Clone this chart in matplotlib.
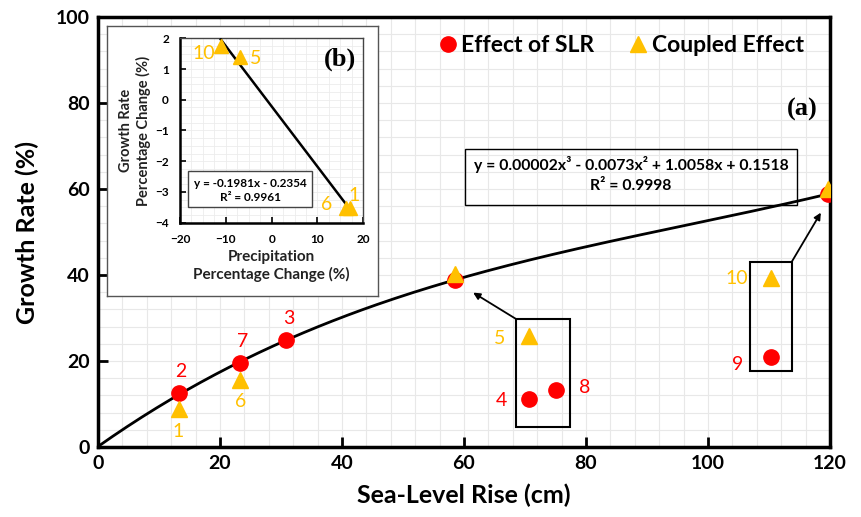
import numpy as np
import matplotlib
matplotlib.use("Agg")
import matplotlib.pyplot as plt
from matplotlib.lines import Line2D
from matplotlib.patches import Rectangle
from matplotlib.ticker import MultipleLocator

plt.rcParams['font.family'] = ['Lato', 'DejaVu Sans']

RED = '#FF0000'
GOLD = '#FFC000'

# main panel (a): growth rate vs sea-level rise
slr_x = [13.2, 23.3, 30.9, 58.5, 119.6]
slr_y = [12.5, 19.5, 24.9, 38.9, 58.8]
slr_labels = ['2', '7', '3', '', '']

# trendline is anchored at zero rise / zero growth
origin_x = [0.0]
origin_y = [0.0]

coupled_x = [13.2, 23.3, 58.5, 119.6]
coupled_y = [8.8, 15.6, 40.3, 60.1]
coupled_labels = ['1', '6', '', '']

# points shown apart inside the two call-out boxes
box1_red_x = [70.7, 75.1]
box1_red_y = [11.2, 13.3]
box1_red_labels = ['4', '8']
box1_gold_x = [70.7]
box1_gold_y = [25.7]
box1_gold_labels = ['5']

box2_red_x = [110.3]
box2_red_y = [20.9]
box2_red_labels = ['9']
box2_gold_x = [110.3]
box2_gold_y = [39.3]
box2_gold_labels = ['10']

# inset (b): growth rate change vs precipitation change
precip_x = [-11.1, -6.9, 16.3, 17.2]
growth_y = [1.75, 1.39, -3.52, -3.52]
precip_labels = ['10', '5', '6', '1']

fig = plt.figure(figsize=(8.62, 5.17), dpi=100)
ax = fig.add_axes([98 / 862, 70 / 517, 732 / 862, 430 / 517])

ax.set_xlim(0, 120)
ax.set_ylim(0, 100)
ax.xaxis.set_major_locator(MultipleLocator(20))
ax.yaxis.set_major_locator(MultipleLocator(20))
ax.xaxis.set_minor_locator(MultipleLocator(4))
ax.yaxis.set_minor_locator(MultipleLocator(4))
ax.grid(which='both', color='#e8e8e8', lw=0.8)
ax.set_axisbelow(True)
ax.tick_params(which='major', direction='in', length=7, width=2, labelsize=14, pad=6)
ax.tick_params(which='minor', length=0)
for lab in ax.get_xticklabels() + ax.get_yticklabels():
    lab.set_fontweight('bold')
for s in ax.spines.values():
    s.set_linewidth(2.5)

ax.set_xlabel('Sea-Level Rise (cm)', fontsize=18, fontweight='bold', labelpad=8)
ax.set_ylabel('Growth Rate (%)', fontsize=18, fontweight='bold', labelpad=12)

# cubic trendline fitted to the SLR points
coef = np.polyfit(origin_x + slr_x, origin_y + slr_y, 3)
xs = np.linspace(0, max(slr_x), 200)
ax.plot(xs, np.polyval(coef, xs), color='black', lw=2, zorder=3)

ax.plot(slr_x, slr_y, 'o', color=RED, ms=11, zorder=4)
ax.plot(coupled_x, coupled_y, '^', color=GOLD, ms=11, zorder=5)
ax.plot(box1_red_x + box2_red_x, box1_red_y + box2_red_y, 'o', color=RED, ms=11, zorder=4)
ax.plot(box1_gold_x + box2_gold_x, box1_gold_y + box2_gold_y, '^', color=GOLD, ms=11, zorder=5)

lab_kw = dict(fontsize=14, ha='center', va='center')
for x, y, t in zip(slr_x, slr_y, slr_labels):
    if t:
        ax.text(x + 0.4, y + 5.1, t, color=RED, **lab_kw)
for x, y, t in zip(coupled_x, coupled_y, coupled_labels):
    if t:
        ax.text(x, y - 5.1, t, color=GOLD, **lab_kw)
ax.text(box1_gold_x[0] - 4.9, box1_gold_y[0] - 0.5, box1_gold_labels[0], color=GOLD, **lab_kw)
ax.text(box1_red_x[0] - 4.5, box1_red_y[0] - 0.5, box1_red_labels[0], color=RED, **lab_kw)
ax.text(box1_red_x[1] + 4.7, box1_red_y[1] + 0.5, box1_red_labels[1], color=RED, **lab_kw)
ax.text(box2_gold_x[0] - 5.5, box2_gold_y[0], box2_gold_labels[0], color=GOLD, **lab_kw)
ax.text(box2_red_x[0] - 5.4, box2_red_y[0] - 1.6, box2_red_labels[0], color=RED, **lab_kw)

# call-out boxes and arrows
ax.add_patch(Rectangle((68.5, 4.6), 8.9, 25.2, fill=False, lw=1.5, zorder=3))
ax.add_patch(Rectangle((106.9, 17.7), 6.8, 25.3, fill=False, lw=1.5, zorder=3))
arrow = dict(arrowstyle='-|>', color='black', lw=1.3, mutation_scale=10, shrinkA=0, shrinkB=0)
ax.annotate('', xy=(61.5, 35.9), xytext=(68.5, 29.8), arrowprops=arrow)
ax.annotate('', xy=(118.5, 54.5), xytext=(113.7, 43.0), arrowprops=arrow)

# equation box
ax.add_patch(Rectangle((60.2, 56.2), 54.4, 13.1, fill=False, lw=1, zorder=3))
ax.text(87.4, 65.6, 'y = 0.00002x³ - 0.0073x² + 1.0058x + 0.1518', fontsize=11.3,
        fontweight='bold', ha='center', va='center')
ax.text(87.4, 60.6, 'R² = 0.9998', fontsize=11.3, fontweight='bold', ha='center', va='center')
ax.text(115.4, 78.6, '(a)', fontsize=19, fontweight='bold', family='Liberation Serif',
        ha='center', va='center')

handles = [
    Line2D([], [], marker='o', ls='none', color=RED, ms=11, label='Effect of SLR'),
    Line2D([], [], marker='^', ls='none', color=GOLD, ms=11, label='Coupled Effect'),
]
ax.legend(handles=handles, ncol=2, frameon=False, loc='center', bbox_to_anchor=(0.713, 0.933),
          prop={'size': 16.5, 'weight': 'bold'}, handletextpad=0.1, columnspacing=1.4,
          handlelength=1.0)

# inset frame
frame = fig.add_axes([107 / 862, 221 / 517, 271 / 862, 270 / 517])
frame.set_xticks([])
frame.set_yticks([])
frame.set_facecolor('white')
for s in frame.spines.values():
    s.set_color('#555555')
    s.set_linewidth(1)

ins = fig.add_axes([180 / 862, 294.3 / 517, 183.3 / 862, 184.4 / 517])
ins.set_xlim(-20, 20)
ins.set_ylim(-4, 2)
ins.xaxis.set_major_locator(MultipleLocator(10))
ins.yaxis.set_major_locator(MultipleLocator(1))
ins.xaxis.set_minor_locator(MultipleLocator(2.5))
ins.yaxis.set_minor_locator(MultipleLocator(0.25))
ins.grid(which='both', color='#ececec', lw=0.6)
ins.set_axisbelow(True)
ins.tick_params(which='major', direction='in', length=4, width=1.2, labelsize=8.5, pad=8)
ins.tick_params(which='minor', length=0)
for lab in ins.get_xticklabels() + ins.get_yticklabels():
    lab.set_fontweight('bold')
ins.spines['left'].set_linewidth(1.8)
ins.spines['bottom'].set_linewidth(1.8)
for side in ['top', 'right']:
    ins.spines[side].set_color('#444444')
    ins.spines[side].set_linewidth(1)

ins.set_xlabel('Precipitation\nPercentage Change (%)', fontsize=11, fontweight='bold',
               color='#222222', labelpad=4)
ins.set_ylabel('Growth Rate\nPercentage Change (%)', fontsize=10.5, fontweight='bold',
               color='#222222', labelpad=3)

lin = np.polyfit(precip_x, growth_y, 1)
lx = np.array([min(precip_x), max(precip_x)])
ins.plot(lx, np.polyval(lin, lx), color='black', lw=1.8, zorder=3)
ins.plot(precip_x, growth_y, '^', color=GOLD, ms=10, zorder=4, clip_on=False)

offsets = [(-3.8, -0.24), (3.3, -0.04), (-4.2, 0.1), (0.7, 0.42)]
for x, y, t, (dx, dy) in zip(precip_x, growth_y, precip_labels, offsets):
    ins.text(x + dx, y + dy, t, color=GOLD, fontsize=14, ha='center', va='center')

ins.add_patch(Rectangle((-18.2, -3.48), 27.0, 1.16, facecolor='white', edgecolor='#444444',
                        lw=1, zorder=5))
ins.text(-4.7, -2.74, 'y = -0.1981x - 0.2354', fontsize=8.5, fontweight='bold',
         ha='center', va='center', zorder=6)
ins.text(-4.7, -3.19, 'R² = 0.9961', fontsize=8.5, fontweight='bold',
         ha='center', va='center', zorder=6)
ins.text(15.0, 1.33, '(b)', fontsize=19, fontweight='bold', family='Liberation Serif',
         ha='center', va='center')

fig.savefig('out.png', dpi=100)
